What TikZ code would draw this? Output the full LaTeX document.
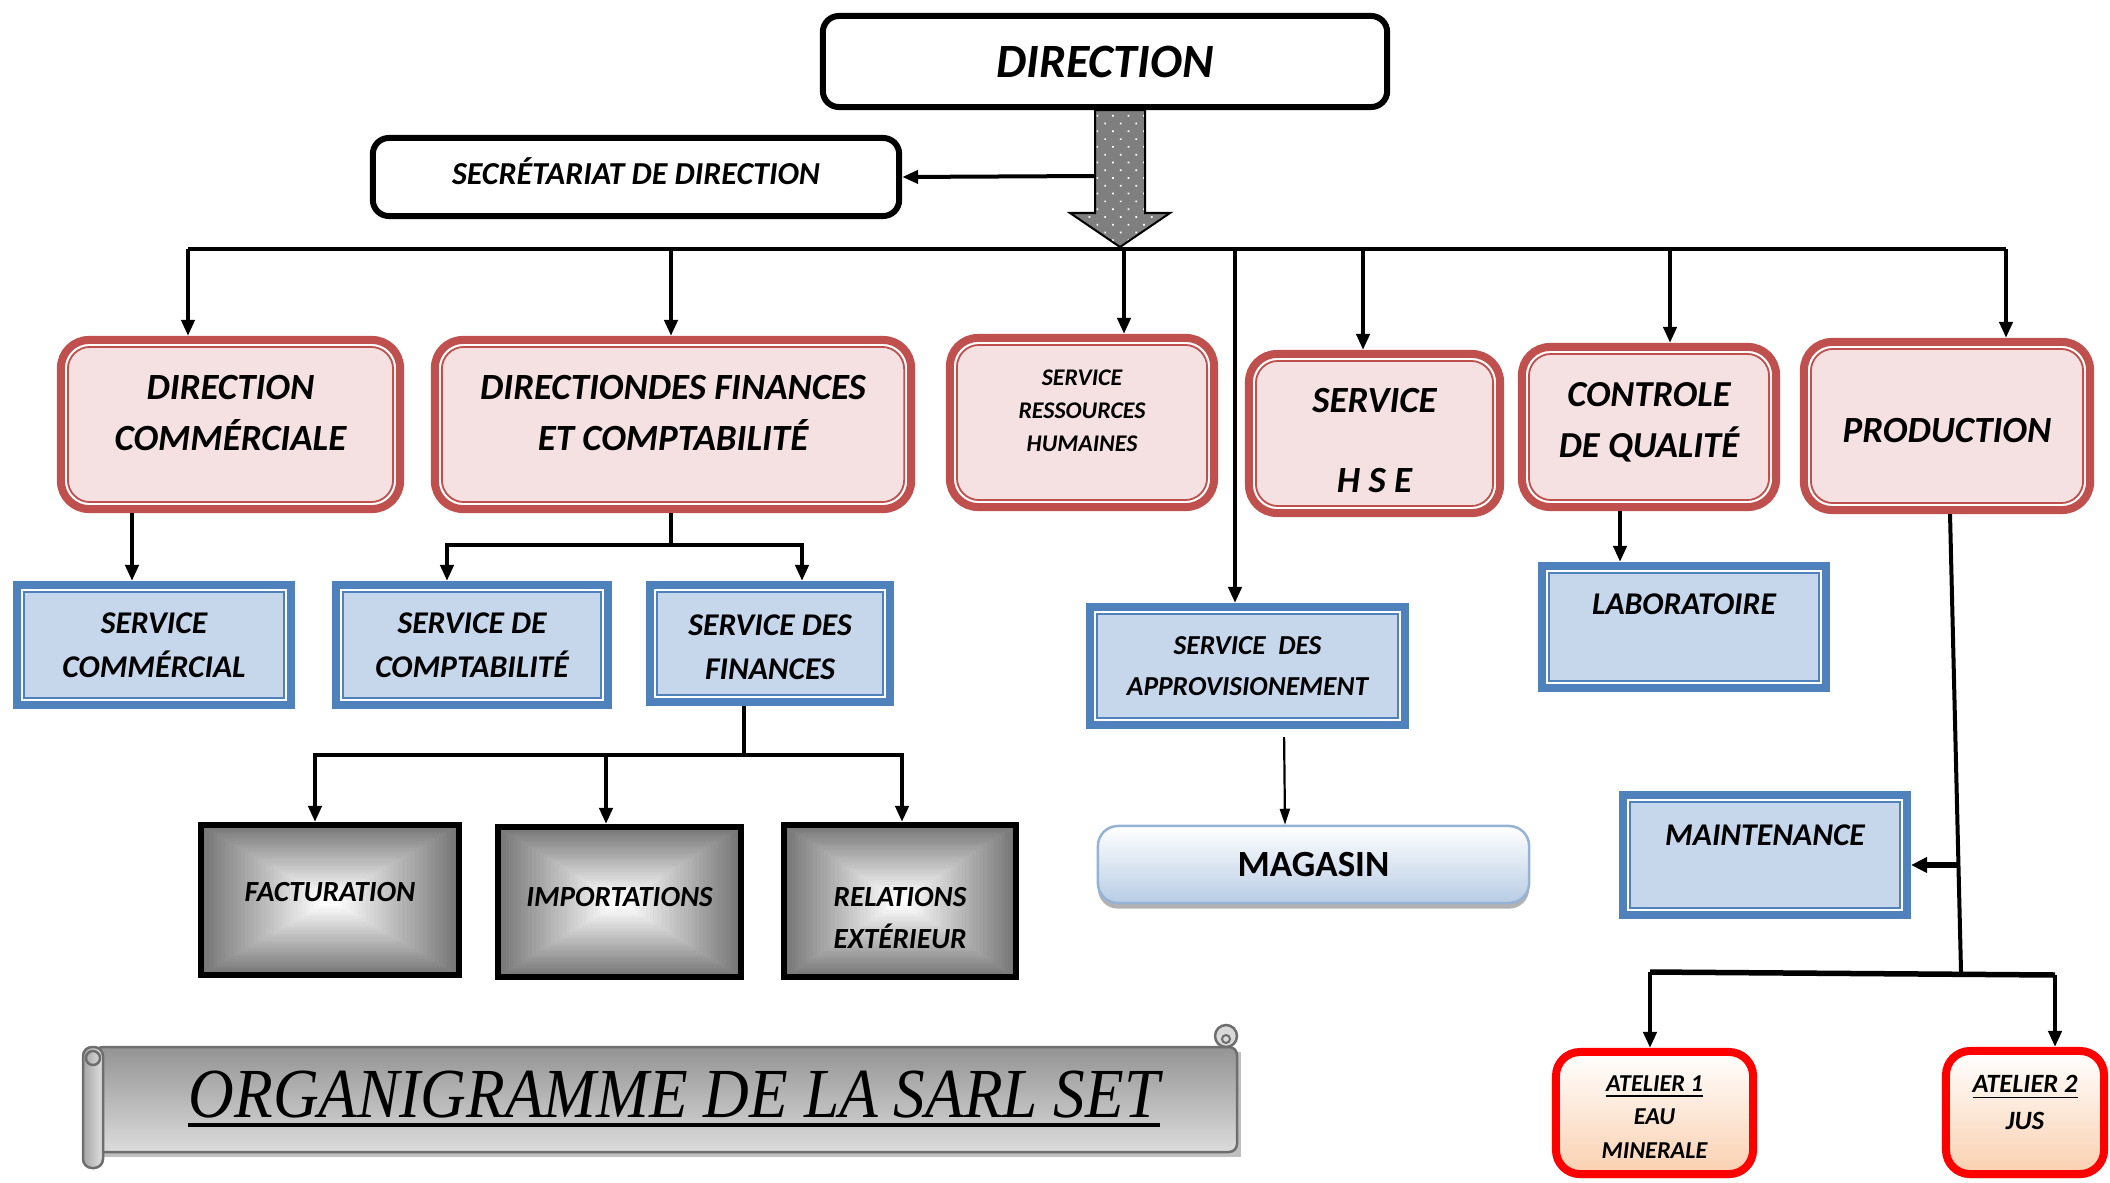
\documentclass[tikz,border=0pt]{standalone}
\usepackage{fontspec}
\usepackage{graphicx}
\setmainfont{Carlito}
\newfontfamily\titlefont{Liberation Serif}
\usetikzlibrary{arrows.meta,patterns.meta,calc}
\definecolor{redc}{HTML}{C0504D}
\definecolor{pinkc}{HTML}{F5E1E1}
\definecolor{bluec}{HTML}{4F81BD}
\definecolor{lbluec}{HTML}{C6D7EC}
\definecolor{magb}{HTML}{95B3D7}
\definecolor{magf}{HTML}{B8CCE4}
\definecolor{peach}{HTML}{FAD0B0}
\definecolor{scrollc}{HTML}{6E6E6E}
\definecolor{arrowgray}{HTML}{7F7F7F}
\newcommand\vmove[2]{\raisebox{#1}[\height][\depth]{#2}}
\begin{document}
\begin{tikzpicture}[x=0.01cm,y=-0.01cm,
  every node/.style={inner sep=0pt, align=center},
  fs/.style 2 args={font=\bfseries\itshape\fontsize{#1}{#2}\selectfont},
  dirbox/.style={draw=black, line width=0.06cm, rounded corners=0.16cm, fill=white},
  redbox/.style={draw=redc, line width=0.08cm, fill=pinkc, rounded corners=0.28cm,
    path picture={
      \draw[white, line width=0.02cm, rounded corners=0.24cm]
        ([shift={(5,5)}]path picture bounding box.north west) rectangle ([shift={(-5,-5)}]path picture bounding box.south east);
      \draw[redc, line width=0.018cm, rounded corners=0.22cm]
        ([shift={(7,7)}]path picture bounding box.north west) rectangle ([shift={(-7,-7)}]path picture bounding box.south east);
    }},
  bluebox/.style={draw=bluec, line width=0.08cm, fill=lbluec,
    path picture={
      \draw[white, line width=0.02cm]
        ([shift={(5,5)}]path picture bounding box.north west) rectangle ([shift={(-5,-5)}]path picture bounding box.south east);
      \draw[bluec, line width=0.018cm]
        ([shift={(7,7)}]path picture bounding box.north west) rectangle ([shift={(-7,-7)}]path picture bounding box.south east);
    }},
  graybox/.style={draw=black, line width=0.06cm,
    path picture={
      \coordinate (pA) at (path picture bounding box.north west);
      \coordinate (pB) at (path picture bounding box.south east);
      \foreach \i in {0,...,30}{
        \pgfmathsetmacro\gc{54*(1-\i/30)}
        \pgfmathsetmacro\gf{0.47*\i/30}
        \fill[black!\gc] ($(pA)!\gf!(pB)$) rectangle ($(pB)!\gf!(pA)$);
      }
    }},
  magbox/.style={draw=magb, line width=0.025cm, rounded corners=0.2cm, top color=white, bottom color=magf,
    preaction={fill=black!30, transform canvas={yshift=-1.6pt}}},
  atbox/.style={draw=red, line width=0.08cm, rounded corners=0.24cm, top color=white, bottom color=peach,
    preaction={fill=brown!40, transform canvas={yshift=-1.2pt}}},
  conn/.style={draw=black, line width=0.04cm},
  arr/.style={conn, -{Triangle[length=0.16cm,width=0.13cm]}},
  thinarr/.style={draw=black, line width=0.022cm, -{Triangle[length=0.16cm,width=0.1cm]}}
]
\useasboundingbox (0,0) rectangle (2110,1182);

% ---------- title scroll ----------
\fill[black!25] (99,1052) rectangle (1241,1157);
\shade[top color=black!42, bottom color=black!14, draw=scrollc, line width=0.025cm, rounded corners=0.08cm]
  (95,1047) rectangle (1237,1152);
\shade[left color=black!35, right color=black!12, draw=scrollc, line width=0.025cm, rounded corners=0.09cm]
  (83,1047) rectangle (103,1168);
\draw[scrollc, line width=0.025cm] (93,1058) circle (7);
\draw[scrollc, line width=0.025cm, fill=black!15] (1226,1036) circle (11);
\draw[scrollc, line width=0.02cm] (1226,1039) circle (4);
\node[font=\titlefont\itshape\fontsize{20}{24}\selectfont, anchor=base] (title) at (674,1117)
  {\scalebox{0.9}[1]{ORGANIGRAMME DE LA SARL SET}};
\draw[line width=0.04cm] ([yshift=-2.2pt]title.base west) -- ([yshift=-2.2pt]title.base east);

% ---------- top ----------
\node[dirbox, minimum width=5.64cm, minimum height=0.91cm, fs={13.6}{16}] (dir) at (1105,61.5) {DIRECTION};
\node[dirbox, minimum width=5.26cm, minimum height=0.78cm, fs={9.1}{11}] (sec) at (636,177) {\vmove{0.06cm}{SECRÉTARIAT DE DIRECTION}};

% ---------- red boxes ----------
\node[redbox, minimum width=3.39cm, minimum height=1.69cm, fs={10.5}{14.5}] (dc) at (230.5,424.5)
  {\vmove{0.11cm}{DIRECTION}\\\vmove{0.11cm}{COMMÉRCIALE}};
\node[redbox, minimum width=4.76cm, minimum height=1.69cm, fs={10.5}{14.5}] (dfc) at (673,424.5)
  {\vmove{0.11cm}{DIRECTIONDES FINANCES}\\\vmove{0.11cm}{ET COMPTABILITÉ}};
\node[redbox, minimum width=2.64cm, minimum height=1.69cm, fs={6.8}{9.4}] (srh) at (1082,422.5)
  {\vmove{0.12cm}{SERVICE}\\\vmove{0.12cm}{RESSOURCES}\\\vmove{0.12cm}{HUMAINES}};
\node[redbox, minimum width=2.51cm, minimum height=1.59cm, fs={10.5}{22.8}] (hse) at (1374.5,433.5)
  {\vmove{-0.07cm}{SERVICE}\\\vmove{-0.07cm}{H S E}};
\node[redbox, minimum width=2.54cm, minimum height=1.60cm, fs={10.4}{14.5}] (cq) at (1649,427)
  {\vmove{0.05cm}{CONTROLE}\\\vmove{0.05cm}{DE QUALITÉ}};
\node[redbox, minimum width=2.86cm, minimum height=1.68cm, fs={10.5}{14}] (prod) at (1947,426)
  {\vmove{-0.05cm}{PRODUCTION}};

% ---------- blue boxes ----------
\node[bluebox, minimum width=2.74cm, minimum height=1.20cm, fs={9}{12.5}] (scom) at (154,645) {SERVICE\\COMMÉRCIAL};
\node[bluebox, minimum width=2.72cm, minimum height=1.20cm, fs={9}{12.5}] (scpt) at (472,645) {SERVICE DE\\COMPTABILITÉ};
\node[bluebox, minimum width=2.40cm, minimum height=1.17cm, fs={9}{12.5}] (sfin) at (770,643.5)
  {\vmove{-0.04cm}{SERVICE DES}\\\vmove{-0.04cm}{FINANCES}};
\node[bluebox, minimum width=3.15cm, minimum height=1.18cm, fs={7.8}{11.8}] (appro) at (1247.5,666) {SERVICE\ \ DES\\APPROVISIONEMENT};
\node[bluebox, minimum width=2.84cm, minimum height=1.22cm, fs={9}{12}] (lab) at (1684,627) {\vmove{0.23cm}{LABORATOIRE}};
\node[bluebox, minimum width=2.84cm, minimum height=1.20cm, fs={9}{12}] (maint) at (1765,855) {\vmove{0.2cm}{MAINTENANCE}};

% ---------- gray boxes ----------
\node[graybox, minimum width=2.58cm, minimum height=1.50cm, fs={8.3}{11.9}] (fact) at (330,900) {\vmove{0.08cm}{FACTURATION}};
\node[graybox, minimum width=2.43cm, minimum height=1.50cm, fs={8.3}{11.9}] (imp) at (619.5,902) {\vmove{0.05cm}{IMPORTATIONS}};
\node[graybox, minimum width=2.32cm, minimum height=1.52cm, fs={8.3}{11.9}] (rel) at (900,901)
  {\vmove{-0.17cm}{RELATIONS}\\\vmove{-0.17cm}{EXTÉRIEUR}};

% ---------- magasin, ateliers ----------
\node[magbox, minimum width=4.31cm, minimum height=0.77cm, font=\bfseries\fontsize{10.5}{12}\selectfont] (mag) at (1313.5,864.5) {MAGASIN};
\node[atbox, minimum width=1.97cm, minimum height=1.22cm, fs={6.9}{9.6}] (at1) at (1654.5,1113)
  {\vmove{-0.04cm}{\underline{ATELIER 1}}\\\vmove{-0.04cm}{EAU}\\\vmove{-0.04cm}{MINERALE}};
\node[atbox, minimum width=1.58cm, minimum height=1.23cm, fs={7.5}{10.4}] (at2) at (2025,1112.5)
  {\vmove{0.1cm}{\underline{ATELIER 2}}\\\vmove{0.1cm}{JUS}};

% ---------- connectors ----------
\coordinate (b1) at (188,249);
\coordinate (b2) at (671,249);
\coordinate (b3) at (1124,249);
\coordinate (b4) at (1235,249);
\coordinate (b5) at (1363,249);
\coordinate (b6) at (1670,249);
\coordinate (b7) at (2006,249);
\draw[conn] (b1) -- (b7);
\draw[arr] (b1) -- (b1 |- dc.north);
\draw[arr] (b2) -- (b2 |- dfc.north);
\draw[arr] (b3) -- (b3 |- srh.north);
\draw[arr] (b4) -- (b4 |- appro.north);
\draw[arr] (b5) -- (b5 |- hse.north);
\draw[arr] (b6) -- (b6 |- cq.north);
\draw[arr] (b7) -- (b7 |- prod.north);

\coordinate (sh) at (1095,176);
\draw[arr] (sh) -- (sec.east);

% big dotted arrow from DIRECTION
\draw[black, line width=0.02cm, preaction={fill=arrowgray},
      pattern={Dots[angle=45,distance=0.11cm,radius=0.012cm]}, pattern color=white]
  (dir.south -| 1095,0) -- (dir.south -| 1145,0) -- (1145,213) -- (1170,213) -- (1120,247)
  -- (1070,213) -- (1095,213) -- cycle;

\draw[arr] (dc.south -| 132,0) -- (scom.north -| 132,0);

\coordinate (j1) at (671,545);
\draw[conn] (dfc.south -| j1) -- (j1);
\draw[arr] (j1) -| (scpt.north -| 447,0);
\draw[arr] (j1) -| (sfin.north -| 802,0);

\coordinate (j2) at (744,755);
\draw[conn] (sfin.south -| j2) -- (j2);
\draw[arr] (j2) -| (fact.north -| 315,0);
\draw[arr] (j2) -| (imp.north -| 606,0);
\draw[arr] (j2) -| (rel.north -| 902,0);

\draw[thinarr, shorten <=0.08cm] (appro.south -| 1284,0) -- (mag.north -| 1285,0);

\draw[arr] (cq.south -| 1620,0) -- (lab.north -| 1620,0);

\coordinate (j3) at (1961,972);
\coordinate (j4) at (1958,865);
\coordinate (j5) at (1650,972);
\coordinate (j6) at (2055,975);
\draw[conn] (prod.south -| 1950,0) -- (j3);
\draw[conn, line width=0.06cm, -{Triangle[length=0.16cm,width=0.15cm]}] (j4) -- (maint.east |- j4);
\draw[conn, line width=0.055cm] (j5) -- (j6);
\draw[arr] (j5) -- (at1.north -| j5);
\draw[arr] (j6) -- (at2.north -| j6);
\end{tikzpicture}
\end{document}
